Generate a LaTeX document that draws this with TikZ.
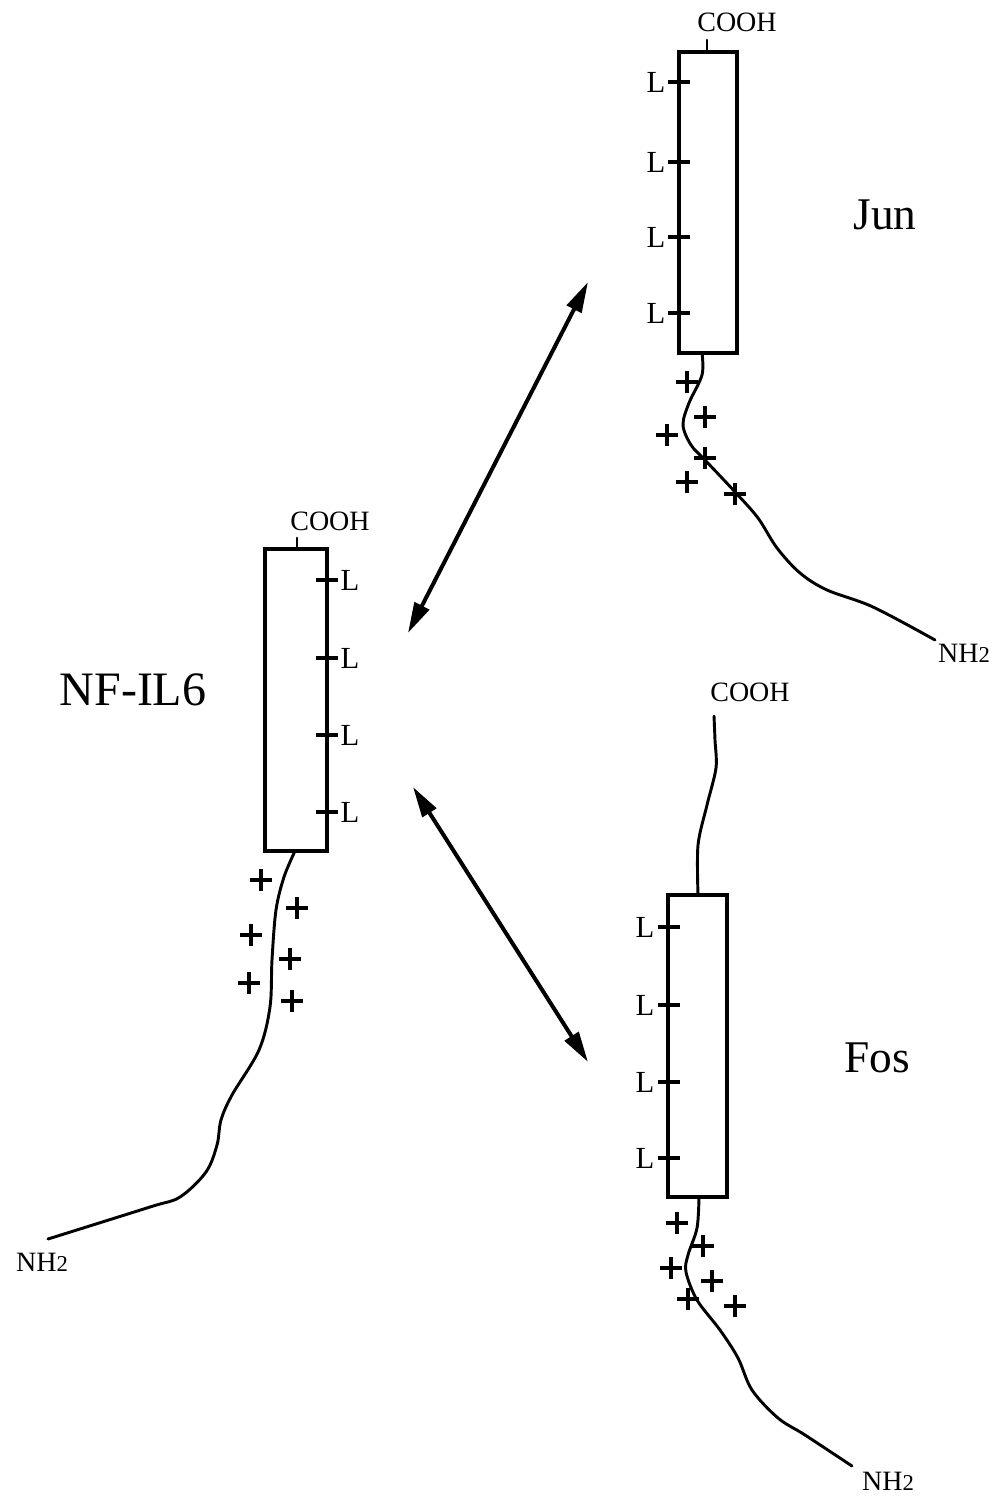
\documentclass[tikz,border=0pt]{standalone}
\usepackage{fontspec}
\setmainfont{Liberation Serif}
\usetikzlibrary{arrows.meta}
\begin{document}
\begin{tikzpicture}[x=0.75pt,y=-0.75pt,
  boxline/.style={line width=2.7pt},
  chain/.style={line width=2.2pt, line join=round, line cap=round},
  tickmk/.style={line width=2.3pt},
  plusmk/.style={line width=2.5pt},
  dbl/.style={line width=3pt, {Triangle[length=23pt,width=12pt]}-{Triangle[length=23pt,width=12pt]}},
  lbl/.style={font=\fontsize{23}{27}\selectfont, inner sep=0pt},
  small/.style={font=\fontsize{21}{25}\selectfont, inner sep=0pt},
  big/.style={font=\fontsize{34}{40}\selectfont, inner sep=0pt},
  bigger/.style={font=\fontsize{36}{42}\selectfont, inner sep=0pt}
]
\useasboundingbox (0,0) rectangle (1000,1498);

% ---------- Jun ----------
\draw[boxline] (679,52) rectangle (737,353);
\coordinate (jtop) at (707,52);
\coordinate (jbot) at (702,353);
\node[small] (jcooh) at (737,22) {COOH};
\draw[chain] (jtop) -- (707,40);
\foreach \ty in {82,162,237,313} {
  \draw[tickmk] (668,\ty) -- (690,\ty);
  \node[lbl] (jl\ty) at (656,\ty) {L};
}
\node[small] (jnh) at (964,653) {NH{\fontsize{17}{20}\selectfont 2}};
\draw[chain] plot[smooth,tension=0.55] coordinates {(jbot) (702,375) (689,403) (683,425) (691,445) (705,460) (736,493) (758,518) (777,548) (800,573) (827,590) (873,607) (935,640)};
\foreach \px/\py in {687/382,705/417,667/435,705/458,687/482,735/494}
  \draw[plusmk] (\px-11,\py) -- (\px+11,\py) (\px,\py-11) -- (\px,\py+11);
\node[big] (jun) at (885,215) {Jun};

% ---------- NF-IL6 ----------
\draw[boxline] (265,549) rectangle (327,851);
\coordinate (ntop) at (297,549);
\coordinate (nbot) at (295,851);
\node[small] (ncooh) at (330,521) {COOH};
\draw[chain] (ntop) -- (297,538);
\foreach \ty in {580,658,735,812} {
  \draw[tickmk] (316,\ty) -- (338,\ty);
  \node[lbl] (nl\ty) at (350,\ty) {L};
}
\node[small] (nnh) at (42,1262) {NH{\fontsize{17}{20}\selectfont 2}};
\draw[chain] plot[smooth,tension=0.55] coordinates {(nbot) (284,877) (276,910) (272,960) (270,1007) (259,1050) (232,1095) (221,1120) (217,1145) (206,1172) (180,1197) (150,1207) (48,1239)};
\foreach \px/\py in {261/880,297/908,251/935,290/959,249/983,292/1001}
  \draw[plusmk] (\px-11,\py) -- (\px+11,\py) (\px,\py-11) -- (\px,\py+11);
\node[bigger] (nf) at (133,690) {NF-IL6};

% ---------- Fos ----------
\draw[boxline] (668,895) rectangle (727,1197);
\coordinate (ftop) at (698,895);
\coordinate (fbot) at (699,1197);
\node[small] (fcooh) at (750,692) {COOH};
\draw[chain] plot[smooth,tension=0.5] coordinates {(ftop) (698,845) (707,805) (716,768) (715,740) (714,716)};
\foreach \ty in {927,1005,1082,1158} {
  \draw[tickmk] (658,\ty) -- (680,\ty);
  \node[lbl] (fl\ty) at (645,\ty) {L};
}
\node[small] (fnh) at (888,1481) {NH{\fontsize{17}{20}\selectfont 2}};
\draw[chain] plot[smooth,tension=0.55] coordinates {(fbot) (697,1228) (688,1255) (686,1272) (697,1300) (720,1330) (738,1358) (752,1390) (778,1418) (805,1435) (852,1466)};
\foreach \px/\py in {677/1223,703/1246,671/1268,712/1281,688/1299,735/1306}
  \draw[plusmk] (\px-11,\py) -- (\px+11,\py) (\px,\py-11) -- (\px,\py+11);
\node[big] (fos) at (877,1058) {Fos};

% ---------- arrows ----------
\coordinate (a1) at (588,282);
\coordinate (a2) at (408,633);
\coordinate (a3) at (413,787);
\coordinate (a4) at (588,1062);
\draw[dbl] (a1) -- (a2);
\draw[dbl] (a3) -- (a4);
\end{tikzpicture}
\end{document}
